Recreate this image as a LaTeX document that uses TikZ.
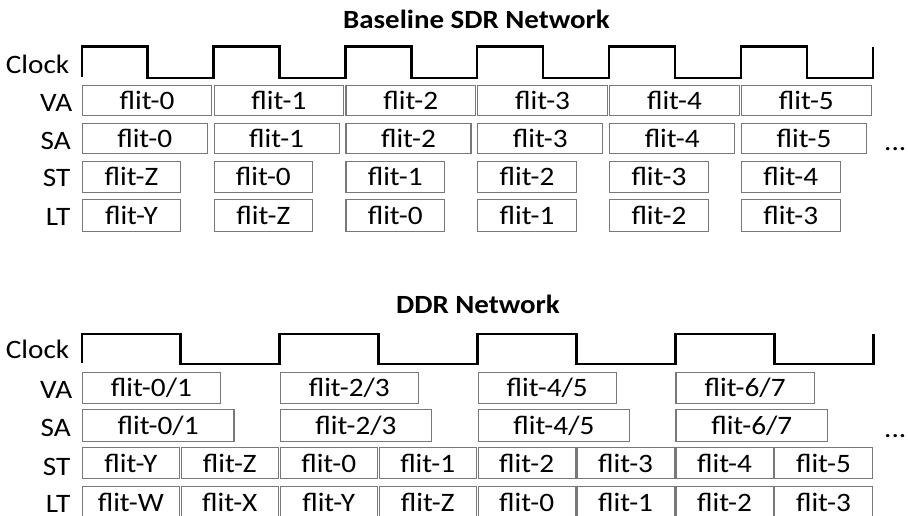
\documentclass[tikz,border=0pt]{standalone}
\usepackage{fontspec}
\setmainfont[FakeStretch=1.1]{Carlito}
\definecolor{boxgray}{RGB}{120,120,120}
\begin{document}
\begin{tikzpicture}[x=1pt,y=-1pt,
  box/.style={draw=boxgray, line width=1.1pt, inner sep=0pt, anchor=north west,
    font=\fontsize{26.6}{30}\selectfont},
  lab/.style={anchor=base east, inner sep=0pt, text depth=0pt, font=\fontsize{26.6}{30}\selectfont},
  ttl/.style={anchor=base, inner sep=0pt, font=\fontsize{26.3}{30}\selectfont\bfseries},
  dots/.style={anchor=base west, inner sep=0pt, font=\fontsize{26.6}{30}\selectfont},
  clk/.style={line width=2.4pt, black, line join=miter}]
\useasboundingbox (0,0) rectangle (908,516);

% ---------------- Baseline SDR ----------------
\node[ttl] (title1) at (476.5,29) {Baseline SDR Network};
\node[lab] (lclk1) at (69.5,73.3) {Clock};
\node[lab] (lva1) at (72.5,111.7) {VA};
\node[lab] (lsa1) at (71,149.3) {SA};
\node[lab] (lst1) at (70.5,186.7) {ST};
\node[lab] (llt1) at (70.5,225) {LT};

\draw[clk] (81.7,77.5) -- (81.7,46.7)
  \foreach \k in {0,...,5}{ -- ++(65.93,0) -- ++(0,31.6) -- ++(65.93,0) -- ++(0,-31.6)};

\foreach \i in {0,...,5}{
  \pgfmathsetmacro\xx{81.7+\i*131.86}
  \node[box, minimum width=129.6pt, minimum height=30pt] (va1\i) at (\xx,85) {flit-\i};
  \node[box, minimum width=125pt, minimum height=30pt] (sa1\i) at (\xx,123.3) {flit-\i};
}
\foreach \lab [count=\i from 0] in {Z,0,1,2,3,4}{
  \pgfmathsetmacro\xx{81.7+\i*131.86}
  \node[box, minimum width=98.5pt, minimum height=30.7pt] (st1\i) at (\xx,161) {flit-\lab};
}
\foreach \lab [count=\i from 0] in {Y,Z,0,1,2,3}{
  \pgfmathsetmacro\xx{81.7+\i*131.86}
  \node[box, minimum width=98.5pt, minimum height=31.4pt] (lt1\i) at (\xx,199.3) {flit-\lab};
}
\node[dots] (dots1) at (884,150) {...};

% ---------------- DDR ----------------
\node[ttl] (title2) at (478,313.3) {DDR Network};
\node[lab] (lclk2) at (69.5,358.3) {Clock};
\node[lab] (lva2) at (72.5,398.3) {VA};
\node[lab] (lsa2) at (71,436.7) {SA};
\node[lab] (lst2) at (70.5,475) {ST};
\node[lab] (llt2) at (70.5,512.5) {LT};

\draw[clk] (81.7,363) -- (81.7,334)
  \foreach \k in {0,...,3}{ -- ++(98.95,0) -- ++(0,30) -- ++(98.95,0) -- ++(0,-30)};

\foreach \lab [count=\i from 0] in {0/1,2/3,4/5,6/7}{
  \pgfmathsetmacro\xx{81.7+\i*197.9}
  \node[box, minimum width=138.3pt, minimum height=31pt] (va2\i) at (\xx,371.7) {flit-\lab};
  \node[box, minimum width=151.7pt, minimum height=31.4pt] (sa2\i) at (\xx,409.3) {flit-\lab};
}
\foreach \lab [count=\i from 0] in {Y,Z,0,1,2,3,4,5}{
  \pgfmathsetmacro\xx{81.7+\i*98.95}
  \node[box, minimum width=97.2pt, minimum height=31pt] (st2\i) at (\xx,447.3) {flit-\lab};
}
\foreach \lab [count=\i from 0] in {W,X,Y,Z,0,1,2,3}{
  \pgfmathsetmacro\xx{81.7+\i*98.95}
  \node[box, minimum width=97.2pt, minimum height=31.5pt] (lt2\i) at (\xx,485.7) {flit-\lab};
}
\node[dots] (dots2) at (884,437) {...};
\end{tikzpicture}
\end{document}
